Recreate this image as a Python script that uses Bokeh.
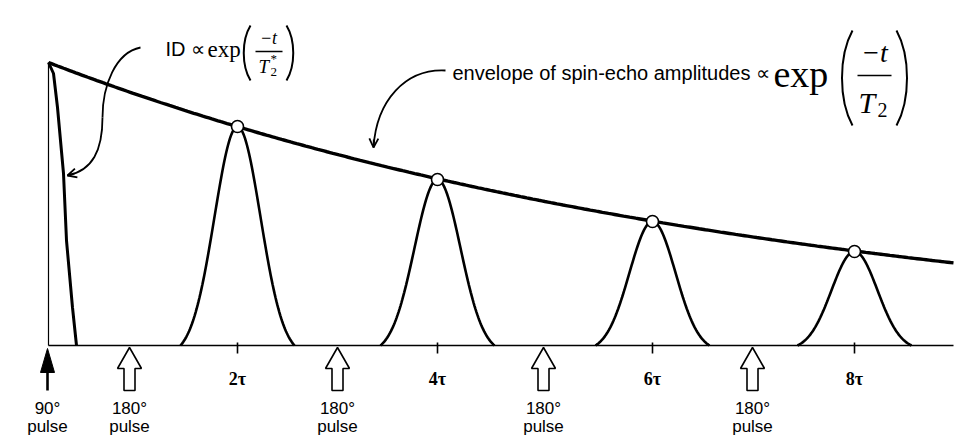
import numpy as np
from bokeh.plotting import figure
from bokeh.models import Range1d, Label, Arrow, OpenHead
from bokeh.embed import file_html
from bokeh.resources import INLINE
from bokeh.core.properties import value

# ---------------- data (time and amplitude in arbitrary units) ----------------
A0 = 283.0                      # initial transverse magnetisation
T2 = 735.0                      # decay constant of the echo envelope
t_end = 905.0                   # end of the drawn time axis
echo_times = [189, 389, 604, 806]
echo_amps = [219, 166, 124, 94]
echo_halfwidth = 57
echo_sigma = 23
tick_labels = ["2τ", "4τ", "6τ", "8τ"]
pulse90_time = -1
pulse180_times = [81, 289, 495, 704]
pulse_labels = ["90°", "180°", "180°", "180°", "180°"]
fid_t = [0, 5, 9, 15, 18, 24, 28]
fid_amp = [283, 272, 238, 172, 105, 38, 0]

SANS = "Liberation Sans"
SERIF = "Liberation Serif"

W, H = 962, 440
p = figure(width=W, height=H, output_backend="svg", toolbar_location=None,
           x_range=Range1d(-48, -48 + W), y_range=Range1d(345 - H, 345),
           x_axis_type=None, y_axis_type=None, min_border=0)
p.grid.visible = False
p.outline_line_color = None
p.background_fill_color = "white"

# axes
p.segment(x0=[0], y0=[0], x1=[0], y1=[A0], line_color="black", line_width=1.2)
p.segment(x0=[0], y0=[0], x1=[t_end], y1=[0], line_color="black", line_width=1.6)
p.segment(x0=echo_times, y0=[3] * 4, x1=echo_times, y1=[-8] * 4,
          line_color="black", line_width=1.6)

# envelope exp(-t/T2)
tt = np.linspace(0, t_end, 300)
p.line(tt, A0 * np.exp(-tt / T2), line_color="black", line_width=3.4)

# FID
p.line(fid_t, fid_amp, line_color="black", line_width=3)

# echoes
e0 = np.exp(-echo_halfwidth ** 2 / (2 * echo_sigma ** 2))
u = np.linspace(-echo_halfwidth, echo_halfwidth, 121)
shape = (np.exp(-u ** 2 / (2 * echo_sigma ** 2)) - e0) / (1 - e0)
for c, a in zip(echo_times, echo_amps):
    p.line(c + u, a * shape, line_color="black", line_width=2.6)
p.scatter(echo_times, echo_amps, size=12, fill_color="white",
          line_color="black", line_width=1.6)

# tick labels
p.text(x=echo_times, y=[-33] * 4, text=tick_labels, text_font=value(SERIF),
       text_font_style="bold", text_font_size="18px", text_align="center",
       text_baseline="middle", text_color="black")

# 90 degree pulse (solid arrow)
p.segment(x0=[pulse90_time], y0=[-45], x1=[pulse90_time], y1=[-24],
          line_color="black", line_width=2.6)
p.patch([pulse90_time, pulse90_time + 7, pulse90_time - 7], [-3, -27, -27],
        fill_color="black", line_color="black", line_width=1)

# 180 degree pulses (hollow arrows)
hx = [[t, t + 12, t + 5.5, t + 5.5, t - 5.5, t - 5.5, t - 12] for t in pulse180_times]
hy = [[-2, -23, -23, -45, -45, -23, -23] for _ in pulse180_times]
p.patches(hx, hy, fill_color="white", line_color="black", line_width=1.6)

# pulse labels
lab_x = [pulse90_time] + pulse180_times
p.text(x=lab_x, y=[-63] * 5, text=pulse_labels, text_font=value(SANS),
       text_font_size="17px", text_align="center", text_baseline="middle",
       text_color="black")
p.text(x=lab_x, y=[-81] * 5, text=["pulse"] * 5, text_font=value(SANS),
       text_font_size="17px", text_align="center", text_baseline="middle",
       text_color="black")

# curved arrow to the FID
p.bezier(x0=[92, 54], y0=[298, 228], x1=[54, 19], y1=[228, 170],
         cx0=[67, 54], cy0=[293, 195], cx1=[54, 44], cy1=[260, 175],
         line_color="black", line_width=1.8)
p.add_layout(Arrow(end=OpenHead(size=9, line_width=1.8, line_color="black"),
                   x_start=26, y_start=172, x_end=19, y_end=170,
                   line_width=1.8, line_color="black"))

# curved arrow to the envelope
p.bezier(x0=[397], y0=[275], x1=[325], y1=[198], cx0=[357], cy0=[277],
         cx1=[328], cy1=[245], line_color="black", line_width=1.8)
p.add_layout(Arrow(end=OpenHead(size=9, line_width=1.8, line_color="black"),
                   x_start=325.3, y_start=206, x_end=325, y_end=198,
                   line_width=1.8, line_color="black"))


def label(x, y, text, font=SANS, size=18, style="normal", align="left"):
    p.add_layout(Label(x=x, y=y, text=text, text_font=font,
                       text_font_size=f"{size}px", text_font_style=style,
                       text_align=align, text_baseline="middle",
                       text_color="black"))


def paren(x_end, y_top, y_bot, bulge):
    p.bezier(x0=[x_end], y0=[y_top], x1=[x_end], y1=[y_bot],
             cx0=[x_end + bulge], cy0=[y_top - (y_top - y_bot) * 0.27],
             cx1=[x_end + bulge], cy1=[y_bot + (y_top - y_bot) * 0.27],
             line_color="black", line_width=2)


# ---- FID label: ID ∝ exp(-t / T2*)
label(117, 297, "ID ∝", SANS, 20)
label(159, 296, "exp", SERIF, 23)
paren(202, 320, 265, -9)
p.segment(x0=[207], y0=[294], x1=[234], y1=[294], line_color="black", line_width=1.3)
label(220, 308, "−t", SERIF, 18, "italic", "center")
label(210, 279, "T", SERIF, 19, "italic", "left")
label(222, 274, "2", SERIF, 13, "normal", "left")
label(222, 287, "*", SERIF, 13, "normal", "left")
paren(238, 320, 265, 9)

# ---- envelope label
label(404, 273, "envelope of spin-echo amplitudes ∝", SANS, 20)
label(725, 272, "exp", SERIF, 38)
paren(804, 315, 220, -14)
p.segment(x0=[809], y0=[270], x1=[843], y1=[270], line_color="black", line_width=1.5)
label(826, 293, "−t", SERIF, 28, "italic", "center")
label(810, 243, "T", SERIF, 30, "italic", "left")
label(829, 236, "2", SERIF, 20, "normal", "left")
paren(848, 315, 220, 14)

open("out.html", "w").write(file_html(p, INLINE))
